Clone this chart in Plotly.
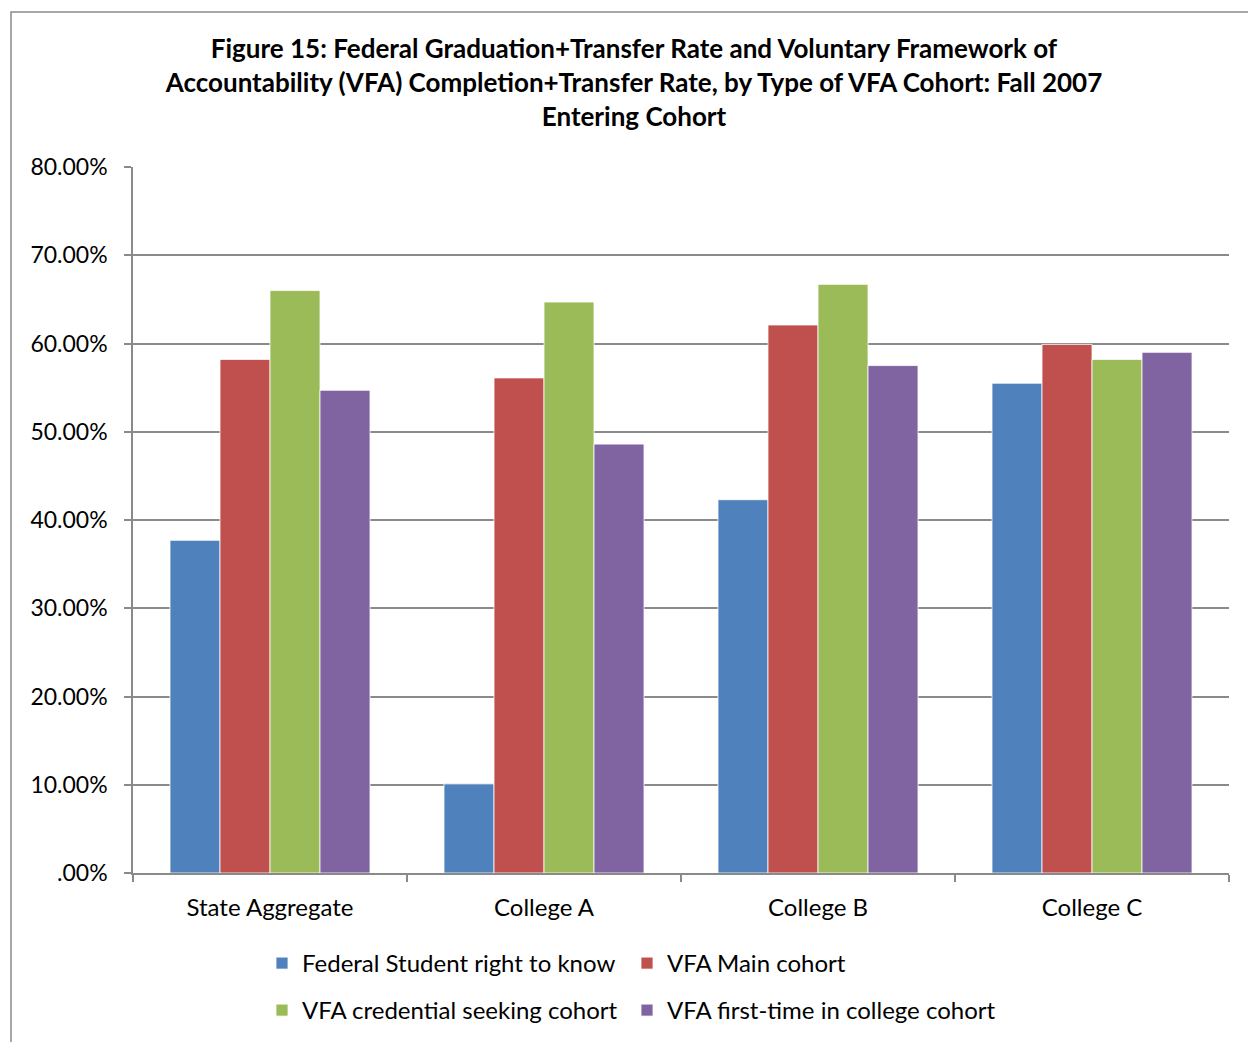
import plotly.graph_objects as go

categories = ["State Aggregate", "College A", "College B", "College C"]
series_names = ["Federal Student right to know", "VFA Main cohort",
                "VFA credential seeking cohort", "VFA first-time in college cohort"]
federal = [0.377, 0.101, 0.423, 0.555]
vfa_main = [0.582, 0.561, 0.621, 0.599]
vfa_credential = [0.660, 0.647, 0.667, 0.582]
vfa_first_time = [0.547, 0.486, 0.575, 0.590]
tick_vals = [0, 0.1, 0.2, 0.3, 0.4, 0.5, 0.6, 0.7, 0.8]
tick_text = [".00%", "10.00%", "20.00%", "30.00%", "40.00%", "50.00%", "60.00%", "70.00%", "80.00%"]
colors = ["#4F81BD", "#C0504D", "#9BBB59", "#8064A2"]

FONT = "Lato, 'Open Sans', sans-serif"
W, H = 1248, 1042
L, R, T, B = 133, 19, 167, 169

grid_c = "#8A8A8A"
pw = W - L - R
ph = H - T - B


def px_to_paper_x(px):
    return (px - L) / pw


def px_to_paper_y(py):
    return (H - B - py) / ph


fig = go.Figure()
all_series = [federal, vfa_main, vfa_credential, vfa_first_time]
legend_ids = ["legend", "legend2", "legend3", "legend4"]
legend_pos = [(262, 941), (627, 941), (262, 988), (627, 988)]
for name, vals, c, lg in zip(series_names, all_series, colors, legend_ids):
    fig.add_trace(go.Bar(
        x=categories, y=vals, name=name, showlegend=True,
        marker=dict(color=c, line=dict(color="white", width=0.8)),
        legend=lg,
    ))

legend_layout = {}
for lg, (lx, ly) in zip(legend_ids, legend_pos):
    legend_layout[lg] = dict(
        orientation="h", x=px_to_paper_x(lx), xanchor="left",
        y=px_to_paper_y(ly), yanchor="top",
        font=dict(size=24), bgcolor="rgba(0,0,0,0)",
    )

fig.update_layout(
    width=W, height=H, showlegend=True,
    margin=dict(l=L, r=R, t=T, b=B, pad=0, autoexpand=False),
    paper_bgcolor="white", plot_bgcolor="white",
    barmode="group", bargap=0.27, bargroupgap=0,
    font=dict(family=FONT, size=20, color="black"),
    title=dict(
        text="<b>Figure 15: Federal Graduation+Transfer Rate and Voluntary Framework of<br>"
             "Accountability (VFA) Completion+Transfer Rate, by Type of VFA Cohort: Fall 2007<br>"
             "Entering Cohort</b>",
        x=634 / W, xanchor="center", xref="container",
        y=1 - 58 / H, yanchor="top", yref="container",
        font=dict(family=FONT, size=26, color="black"),
    ),
    xaxis=dict(
        showline=True, linecolor=grid_c, linewidth=1.5,
        ticks="outside", ticklen=7, tickcolor=grid_c, tickwidth=1.5,
        tickson="boundaries", ticklabelstandoff=12,
        showgrid=False, tickfont=dict(size=24),
    ),
    yaxis=dict(
        range=[0, 0.8], tickvals=tick_vals, ticktext=tick_text,
        showline=True, linecolor=grid_c, linewidth=1.5,
        ticks="outside", ticklen=7, tickcolor=grid_c, tickwidth=1.5,
        showgrid=True, gridcolor=grid_c, gridwidth=1.5,
        zeroline=False, ticklabelstandoff=12, tickfont=dict(size=23),
    ),
    shapes=[dict(
        type="rect", xref="paper", yref="paper",
        x0=px_to_paper_x(11), x1=px_to_paper_x(1260),
        y0=px_to_paper_y(1060), y1=px_to_paper_y(12),
        line=dict(color=grid_c, width=1.5), fillcolor="rgba(0,0,0,0)", layer="below",
    )],
    **legend_layout,
)

fig.write_html("out.html", config={"displayModeBar": False},
               post_script="document.body.style.margin='0';")
